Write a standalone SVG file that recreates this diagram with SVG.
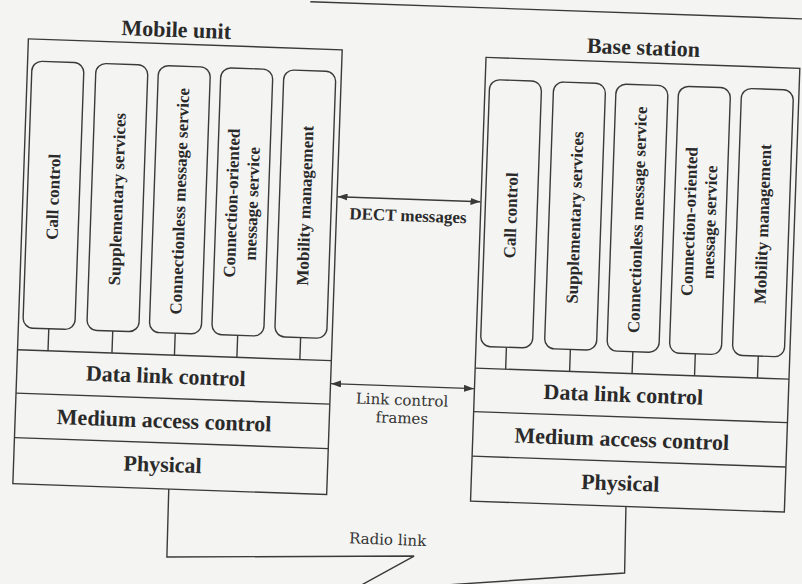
<svg xmlns="http://www.w3.org/2000/svg" width="802" height="584" viewBox="0 0 802 584">
<style>
  .ln{fill:none;stroke:#3a3a3a;stroke-width:1.4}
  .svc{fill:none;stroke:#3a3a3a;stroke-width:1.4}
  .t{font-family:"Liberation Serif","Times New Roman",serif;font-weight:bold;fill:#2a2a2a}
  .title{font-size:22px;text-anchor:middle}
  .layer{font-size:22px;text-anchor:middle}
  .st{font-size:17px;text-anchor:middle}
  .msg{font-size:17px;text-anchor:middle}
  .lbl{font-family:"DejaVu Serif",serif;font-size:15px;fill:#333;text-anchor:middle}
</style>
<defs>
  <marker id="ah" markerUnits="userSpaceOnUse" markerWidth="10" markerHeight="7" refX="10" refY="3.5" orient="auto-start-reverse">
    <path d="M0,0 L10,3.5 L0,7 Z" fill="#3a3a3a"/>
  </marker>
</defs>
<rect width="802" height="584" fill="#f4f4f2"/>
<g transform="rotate(2 400 300)">
  <line class="ln" x1="300" y1="5" x2="830" y2="5"/>

  <g id="mobile-unit" transform="translate(19.5,52)">
    <text class="t title" x="147.5" y="-7">Mobile unit</text>
    <rect class="ln" x="0" y="0" width="314" height="445"/>
    <g id="mu-call-control">
      <rect class="svc" x="4.5" y="22" width="52" height="267" rx="10"/>
      <text class="t st" transform="translate(30.5,157) rotate(-90)" y="5.5">Call control</text>
    </g>
    <g id="mu-supplementary">
      <rect class="svc" x="68.5" y="22" width="52" height="267" rx="10"/>
      <text class="t st" transform="translate(94.5,157) rotate(-90)" y="5.5">Supplementary services</text>
    </g>
    <g id="mu-connectionless">
      <rect class="svc" x="131" y="22" width="52" height="267" rx="10"/>
      <text class="t st" transform="translate(157,157) rotate(-90)" y="5.5">Connectionless message service</text>
    </g>
    <g id="mu-connection-oriented">
      <rect class="svc" x="193.5" y="22" width="52" height="267" rx="10"/>
      <text class="t st" transform="translate(219.5,157) rotate(-90)"><tspan x="0" y="-5">Connection-oriented</tspan><tspan x="0" y="15.5">message service</tspan></text>
    </g>
    <g id="mu-mobility">
      <rect class="svc" x="256.5" y="22" width="52" height="267" rx="10"/>
      <text class="t st" transform="translate(282.5,157) rotate(-90)" y="5.5">Mobility management</text>
    </g>
    <path class="ln" d="M30.5,289V311M94.5,289V311M157,289V311M219.5,289V311M282.5,289V311"/>
    <g id="mu-dlc">
      <line class="ln" x1="0" y1="311" x2="314" y2="311"/>
      <text class="t layer" x="149" y="339.5">Data link control</text>
    </g>
    <g id="mu-mac">
      <line class="ln" x1="0" y1="354.5" x2="314" y2="354.5"/>
      <text class="t layer" x="149" y="384">Medium access control</text>
    </g>
    <g id="mu-phy">
      <line class="ln" x1="0" y1="399" x2="314" y2="399"/>
      <text class="t layer" x="149" y="428">Physical</text>
    </g>
  </g>

  <g id="base-station" transform="translate(477.5,54.5)">
    <text class="t title" x="157" y="-8">Base station</text>
    <rect class="ln" x="0" y="0" width="314" height="444"/>
    <g id="bs-call-control">
      <rect class="svc" x="4.5" y="22" width="52" height="267" rx="10"/>
      <text class="t st" transform="translate(30.5,157) rotate(-90)" y="5.5">Call control</text>
    </g>
    <g id="bs-supplementary">
      <rect class="svc" x="68.5" y="22" width="52" height="267" rx="10"/>
      <text class="t st" transform="translate(94.5,157) rotate(-90)" y="5.5">Supplementary services</text>
    </g>
    <g id="bs-connectionless">
      <rect class="svc" x="131" y="22" width="52" height="267" rx="10"/>
      <text class="t st" transform="translate(157,157) rotate(-90)" y="5.5">Connectionless message service</text>
    </g>
    <g id="bs-connection-oriented">
      <rect class="svc" x="193.5" y="22" width="52" height="267" rx="10"/>
      <text class="t st" transform="translate(219.5,157) rotate(-90)"><tspan x="0" y="-5">Connection-oriented</tspan><tspan x="0" y="15.5">message service</tspan></text>
    </g>
    <g id="bs-mobility">
      <rect class="svc" x="256.5" y="22" width="52" height="267" rx="10"/>
      <text class="t st" transform="translate(282.5,157) rotate(-90)" y="5.5">Mobility management</text>
    </g>
    <path class="ln" d="M30.5,289V311M94.5,289V311M157,289V311M219.5,289V311M282.5,289V311"/>
    <g id="bs-dlc">
      <line class="ln" x1="0" y1="311" x2="314" y2="311"/>
      <text class="t layer" x="149" y="339.5">Data link control</text>
    </g>
    <g id="bs-mac">
      <line class="ln" x1="0" y1="354.5" x2="314" y2="354.5"/>
      <text class="t layer" x="149" y="384">Medium access control</text>
    </g>
    <g id="bs-phy">
      <line class="ln" x1="0" y1="399" x2="314" y2="399"/>
      <text class="t layer" x="149" y="428">Physical</text>
    </g>
  </g>

  <g id="connectors">
    <line class="ln" x1="334" y1="199" x2="477" y2="199" marker-start="url(#ah)" marker-end="url(#ah)"/>
    <line class="ln" x1="334" y1="386" x2="477" y2="386" marker-start="url(#ah)" marker-end="url(#ah)"/>
    <path class="ln" d="M175.5,497 L176,565 L423,555.4 L360,593 L634,565 L633,498.5"/>
  </g>
  <g id="labels">
    <text class="t msg" x="405" y="221">DECT messages</text>
    <text class="lbl" x="405.5" y="405">Link control</text>
    <text class="lbl" x="406" y="423">frames</text>
    <text class="lbl" x="396" y="545">Radio link</text>
  </g>
</g>
</svg>
